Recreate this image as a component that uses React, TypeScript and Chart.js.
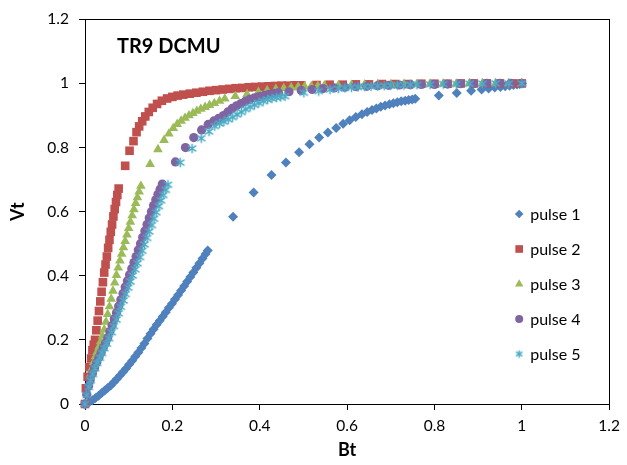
import React, { useEffect, useRef } from 'react';
import { Chart, registerables } from 'chart.js';

Chart.register(...registerables);

const CHART_TITLE = 'TR9 DCMU';
const X_TITLE = 'Bt';
const Y_TITLE = 'Vt';
const X_TICKS = [0, 0.2, 0.4, 0.6, 0.8, 1, 1.2];
const Y_TICKS = [0, 0.2, 0.4, 0.6, 0.8, 1, 1.2];
const SERIES_LABELS = ['pulse 1', 'pulse 2', 'pulse 3', 'pulse 4', 'pulse 5'];
const COLORS = ['#4F81BD', '#C0504D', '#9BBB59', '#8064A2', '#4BACC6'];

const pulse1: [number, number][] = [
  [0, 0], [0.01, 0.006], [0.017, 0.012], [0.024, 0.019], [0.031, 0.026], [0.038, 0.034], [0.045, 0.042], [0.052, 0.05],
  [0.059, 0.058], [0.066, 0.068], [0.073, 0.078], [0.08, 0.089], [0.087, 0.1], [0.094, 0.111], [0.101, 0.123], [0.108, 0.135],
  [0.115, 0.148], [0.122, 0.161], [0.129, 0.175], [0.136, 0.189], [0.143, 0.204], [0.15, 0.219], [0.157, 0.233], [0.164, 0.247],
  [0.171, 0.26], [0.178, 0.273], [0.185, 0.286], [0.192, 0.3], [0.199, 0.313], [0.206, 0.327], [0.213, 0.34], [0.22, 0.354],
  [0.227, 0.368], [0.234, 0.382], [0.241, 0.396], [0.248, 0.41], [0.255, 0.425], [0.262, 0.439], [0.269, 0.454], [0.276, 0.468],
  [0.281, 0.479],
  [0.339, 0.584], [0.386, 0.66], [0.427, 0.714], [0.46, 0.753], [0.49, 0.785], [0.514, 0.81], [0.536, 0.831], [0.556, 0.847],
  [0.575, 0.861], [0.591, 0.874], [0.606, 0.885], [0.62, 0.895], [0.634, 0.904], [0.646, 0.911], [0.657, 0.917], [0.667, 0.922],
  [0.677, 0.927], [0.687, 0.931], [0.697, 0.935], [0.706, 0.938], [0.715, 0.941], [0.724, 0.944], [0.733, 0.946], [0.741, 0.948],
  [0.749, 0.95], [0.756, 0.952],
  [0.81, 0.962], [0.851, 0.97], [0.884, 0.977], [0.908, 0.981], [0.924, 0.984], [0.938, 0.987], [0.951, 0.989], [0.962, 0.991],
  [0.972, 0.993], [0.981, 0.995], [0.989, 0.997], [0.995, 0.998], [1.0, 1.0],
];

const pulse2: [number, number][] = [
  [0, 0], [0.002, 0.049], [0.006, 0.085], [0.01, 0.115], [0.014, 0.142], [0.017, 0.168], [0.02, 0.185], [0.023, 0.2],
  [0.026, 0.23], [0.029, 0.26], [0.032, 0.29], [0.035, 0.32], [0.038, 0.35], [0.041, 0.38], [0.044, 0.41], [0.047, 0.435],
  [0.05, 0.46], [0.053, 0.487], [0.056, 0.512], [0.059, 0.537], [0.062, 0.56], [0.065, 0.585], [0.068, 0.608], [0.071, 0.63],
  [0.074, 0.652], [0.077, 0.672],
  [0.092, 0.743], [0.102, 0.79], [0.111, 0.82], [0.118, 0.848], [0.124, 0.866], [0.131, 0.882], [0.138, 0.897], [0.146, 0.911],
  [0.155, 0.924], [0.165, 0.936], [0.176, 0.946], [0.188, 0.953], [0.2, 0.958], [0.212, 0.962], [0.225, 0.965], [0.24, 0.968],
  [0.255, 0.971], [0.27, 0.974], [0.285, 0.977], [0.3, 0.979], [0.315, 0.981], [0.33, 0.983], [0.345, 0.985], [0.36, 0.986],
  [0.375, 0.988], [0.39, 0.989], [0.405, 0.99], [0.42, 0.991], [0.435, 0.992], [0.45, 0.993], [0.465, 0.993], [0.48, 0.994],
  [0.495, 0.994],
  [0.53, 0.995], [0.56, 0.996], [0.59, 0.996], [0.62, 0.997], [0.65, 0.997], [0.68, 0.998], [0.71, 0.998], [0.74, 0.998],
  [0.77, 0.999], [0.8, 0.999], [0.83, 0.999], [0.86, 1], [0.89, 1], [0.92, 1], [0.95, 1], [0.98, 1], [1, 1],
];

const pulse3: [number, number][] = [
  [0, 0], [0.004, 0.034], [0.008, 0.062], [0.012, 0.088], [0.016, 0.11], [0.02, 0.13], [0.024, 0.148], [0.028, 0.163],
  [0.032, 0.178], [0.036, 0.195], [0.04, 0.212], [0.044, 0.232], [0.048, 0.256], [0.052, 0.28], [0.056, 0.304], [0.06, 0.328],
  [0.064, 0.353], [0.068, 0.378], [0.072, 0.402], [0.076, 0.425], [0.08, 0.447], [0.084, 0.468], [0.088, 0.488], [0.092, 0.508],
  [0.096, 0.528], [0.1, 0.548], [0.104, 0.568], [0.108, 0.588], [0.112, 0.607], [0.116, 0.626], [0.12, 0.644], [0.124, 0.662],
  [0.128, 0.68],
  [0.149, 0.748], [0.167, 0.794], [0.181, 0.823], [0.192, 0.843], [0.202, 0.86], [0.211, 0.873], [0.22, 0.883], [0.229, 0.892],
  [0.238, 0.9], [0.247, 0.907], [0.256, 0.914], [0.265, 0.92], [0.275, 0.926], [0.285, 0.932], [0.296, 0.938], [0.308, 0.945],
  [0.32, 0.952],
  [0.344, 0.96], [0.371, 0.966], [0.397, 0.973], [0.417, 0.978], [0.437, 0.982], [0.455, 0.985], [0.472, 0.987], [0.488, 0.989],
  [0.503, 0.99], [0.518, 0.991], [0.533, 0.992], [0.548, 0.993],
  [0.58, 0.994], [0.61, 0.995], [0.64, 0.996], [0.67, 0.997], [0.7, 0.997], [0.73, 0.998], [0.76, 0.998], [0.79, 0.999],
  [0.82, 0.999], [0.85, 0.999], [0.88, 1], [0.91, 1], [0.94, 1], [0.97, 1], [1, 1],
];

const pulse4: [number, number][] = [
  [0, 0], [0.004, 0.03], [0.008, 0.055], [0.012, 0.075], [0.017, 0.095], [0.022, 0.113], [0.027, 0.13], [0.032, 0.146],
  [0.037, 0.161], [0.042, 0.176], [0.047, 0.19], [0.052, 0.207], [0.057, 0.226], [0.062, 0.245], [0.067, 0.265], [0.072, 0.285],
  [0.077, 0.305], [0.082, 0.325], [0.087, 0.345], [0.092, 0.365], [0.097, 0.384], [0.102, 0.403], [0.107, 0.422], [0.112, 0.441],
  [0.117, 0.46], [0.122, 0.48], [0.127, 0.5], [0.132, 0.52], [0.137, 0.54], [0.142, 0.56], [0.147, 0.58], [0.152, 0.6],
  [0.157, 0.619], [0.162, 0.637], [0.167, 0.654], [0.172, 0.67], [0.177, 0.686],
  [0.207, 0.755], [0.23, 0.8], [0.249, 0.831], [0.267, 0.855], [0.282, 0.872], [0.295, 0.883], [0.306, 0.891], [0.317, 0.9],
  [0.327, 0.911], [0.337, 0.922], [0.347, 0.93], [0.357, 0.937], [0.367, 0.944], [0.377, 0.95], [0.388, 0.955], [0.399, 0.959],
  [0.41, 0.963], [0.421, 0.966], [0.432, 0.969], [0.443, 0.971],
  [0.467, 0.974], [0.495, 0.978], [0.52, 0.981], [0.545, 0.984], [0.57, 0.986], [0.595, 0.988], [0.62, 0.99], [0.645, 0.991],
  [0.67, 0.993], [0.695, 0.994], [0.72, 0.995], [0.745, 0.996], [0.77, 0.997], [0.8, 0.997], [0.83, 0.998], [0.86, 0.999],
  [0.89, 0.999], [0.92, 1], [0.95, 1], [0.975, 1], [1, 1],
];

const pulse5: [number, number][] = [
  [0, 0], [0.004, 0.028], [0.009, 0.053], [0.013, 0.073], [0.018, 0.093], [0.023, 0.111], [0.028, 0.128], [0.034, 0.144],
  [0.039, 0.159], [0.044, 0.174], [0.05, 0.188], [0.055, 0.205], [0.061, 0.224], [0.066, 0.243], [0.072, 0.263], [0.077, 0.283],
  [0.082, 0.303], [0.088, 0.323], [0.093, 0.343], [0.099, 0.363], [0.104, 0.382], [0.109, 0.401], [0.115, 0.42], [0.12, 0.439],
  [0.126, 0.458], [0.131, 0.478], [0.136, 0.498], [0.142, 0.518], [0.147, 0.538], [0.153, 0.558], [0.158, 0.578], [0.163, 0.598],
  [0.169, 0.617], [0.174, 0.635], [0.179, 0.652], [0.185, 0.668], [0.19, 0.684],
  [0.218, 0.753], [0.245, 0.797], [0.266, 0.829], [0.284, 0.85], [0.297, 0.867],
  [0.308, 0.875], [0.318, 0.881], [0.328, 0.888], [0.338, 0.895], [0.348, 0.903], [0.358, 0.911], [0.368, 0.92], [0.378, 0.927],
  [0.388, 0.933], [0.398, 0.939], [0.408, 0.945], [0.418, 0.95], [0.428, 0.953], [0.438, 0.956], [0.448, 0.958], [0.458, 0.96],
  [0.501, 0.971], [0.535, 0.976], [0.561, 0.981],
  [0.58, 0.984], [0.595, 0.986], [0.61, 0.988], [0.625, 0.989], [0.64, 0.99], [0.655, 0.991], [0.67, 0.992], [0.685, 0.993],
  [0.7, 0.994], [0.715, 0.995], [0.73, 0.995], [0.745, 0.996], [0.76, 0.996],
  [0.79, 0.997], [0.82, 0.998], [0.85, 0.998], [0.88, 0.999], [0.91, 0.999], [0.94, 1], [0.97, 1], [1, 1],
];

const SERIES = [pulse1, pulse2, pulse3, pulse4, pulse5];
const FONT = 'Lato, "Open Sans", sans-serif';

function makeStar(color: string, size: number): HTMLCanvasElement {
  const c = document.createElement('canvas');
  c.width = size;
  c.height = size;
  const g = c.getContext('2d')!;
  const m = size / 2;
  const r = size / 2 - 0.8;
  g.strokeStyle = color;
  g.lineWidth = 1.5;
  g.beginPath();
  g.moveTo(m, m - r);
  g.lineTo(m, m + r);
  const dx = r * 0.87;
  const dy = r * 0.6;
  g.moveTo(m - dx, m - dy);
  g.lineTo(m + dx, m + dy);
  g.moveTo(m + dx, m - dy);
  g.lineTo(m - dx, m + dy);
  g.stroke();
  return c;
}

function drawMarker(ctx: CanvasRenderingContext2D, style: any, x: number, y: number, r: number, color: string) {
  ctx.save();
  ctx.fillStyle = color;
  if (typeof style !== 'string') {
    ctx.drawImage(style, x - style.width / 2, y - style.height / 2);
    ctx.restore();
    return;
  }
  ctx.beginPath();
  if (style === 'rectRot') {
    ctx.moveTo(x - r, y);
    ctx.lineTo(x, y - r);
    ctx.lineTo(x + r, y);
    ctx.lineTo(x, y + r);
    ctx.closePath();
  } else if (style === 'rect') {
    const s = Math.SQRT1_2 * r;
    ctx.rect(x - s, y - s, 2 * s, 2 * s);
  } else if (style === 'triangle') {
    ctx.moveTo(x, y - r);
    ctx.lineTo(x + Math.sin(Math.PI / 3) * r, y + r / 2);
    ctx.lineTo(x - Math.sin(Math.PI / 3) * r, y + r / 2);
    ctx.closePath();
  } else {
    ctx.arc(x, y, r, 0, Math.PI * 2);
  }
  ctx.fill();
  ctx.restore();
}

export default function App() {
  const ref = useRef<HTMLCanvasElement>(null);

  useEffect(() => {
    const canvas = ref.current;
    if (!canvas) return;
    const star = makeStar(COLORS[4], 11);
    const legendStar = makeStar(COLORS[4], 9);
    const styles: any[] = ['rectRot', 'rect', 'triangle', 'circle', star];
    const legendStyles: any[] = ['rectRot', 'rect', 'triangle', 'circle', legendStar];
    const radii = [5, 6.1, 5.6, 4.6, 5.5];
    const legendRadii = [4.3, 5.4, 4.8, 4, 4.5];

    const boxPlugin = {
      id: 'box',
      beforeDatasetsDraw(chart: any) {
        const { ctx, chartArea: a } = chart;
        ctx.save();
        ctx.strokeStyle = '#000';
        ctx.lineWidth = 1;
        ctx.strokeRect(Math.round(a.left) + 0.5, Math.round(a.top) + 0.5, Math.round(a.right - a.left), Math.round(a.bottom - a.top));
        ctx.restore();
      },
    };

    const overlayPlugin = {
      id: 'overlay',
      afterDraw(chart: any) {
        const { ctx, chartArea: a } = chart;
        ctx.save();
        ctx.fillStyle = '#000';
        ctx.textBaseline = 'middle';
        ctx.textAlign = 'left';
        ctx.font = `bold 20px ${FONT}`;
        ctx.fillText(CHART_TITLE, a.left + 32, a.top + 27);
        ctx.font = `16px ${FONT}`;
        SERIES_LABELS.forEach((lab, i) => {
          const y = a.top + 194.7 + i * 35;
          drawMarker(ctx, legendStyles[i], a.right - 90, y, legendRadii[i], COLORS[i]);
          ctx.fillStyle = '#000';
          ctx.fillText(lab, a.right - 79, y + 1);
        });
        ctx.restore();
      },
    };

    const chart = new Chart(canvas, {
      type: 'scatter',
      data: {
        datasets: SERIES.map((pts, i) => ({
          label: SERIES_LABELS[i],
          data: pts.map(([x, y]) => ({ x, y })),
          pointStyle: styles[i],
          pointRadius: radii[i],
          pointHoverRadius: radii[i],
          backgroundColor: COLORS[i],
          borderColor: COLORS[i],
          pointBorderWidth: 0,
          borderWidth: 0,
          showLine: false,
          clip: false,
          order: 5 - i,
        })),
      },
      options: {
        animation: false,
        responsive: false,
        devicePixelRatio: 1,
        layout: { padding: { top: 18, right: 11, left: 0, bottom: 0 } },
        plugins: {
          legend: { display: false },
          tooltip: { enabled: false },
        },
        scales: {
          x: {
            type: 'linear',
            position: 'bottom',
            min: 0,
            max: 1.2,
            afterBuildTicks: (s: any) => {
              s.ticks = X_TICKS.map((v) => ({ value: v }));
            },
            afterFit: (s: any) => {
              s.height = 61;
            },
            grid: { drawOnChartArea: false, drawTicks: true, tickLength: 6, color: '#000', lineWidth: 1 },
            border: { display: true, color: '#000', width: 1 },
            ticks: {
              font: { family: FONT, size: 15.5 },
              color: '#000',
              padding: 7,
              maxRotation: 0,
              callback: (v: any) => String(v),
            },
            title: {
              display: true,
              text: X_TITLE,
              color: '#000',
              font: { family: FONT, size: 18, weight: 'bold' },
              padding: { top: 0, bottom: 4 },
            },
          },
          y: {
            type: 'linear',
            position: 'left',
            min: 0,
            max: 1.2,
            afterBuildTicks: (s: any) => {
              s.ticks = Y_TICKS.map((v) => ({ value: v }));
            },
            afterFit: (s: any) => {
              s.width = 85;
            },
            grid: { drawOnChartArea: false, drawTicks: true, tickLength: 6, color: '#000', lineWidth: 1 },
            border: { display: true, color: '#000', width: 1 },
            ticks: {
              font: { family: FONT, size: 15.5 },
              color: '#000',
              padding: 10,
              callback: (v: any) => String(v),
            },
            title: {
              display: true,
              text: Y_TITLE,
              color: '#000',
              font: { family: FONT, size: 18, weight: 'bold' },
              padding: { top: 7, bottom: 0 },
            },
          },
        },
      } as any,
      plugins: [boxPlugin, overlayPlugin],
    });
    return () => chart.destroy();
  }, []);

  return (
    <div style={{ position: 'fixed', left: 0, top: 0, width: 627, height: 465, background: '#fff' }}>
      <canvas ref={ref} width={627} height={465} />
    </div>
  );
}
